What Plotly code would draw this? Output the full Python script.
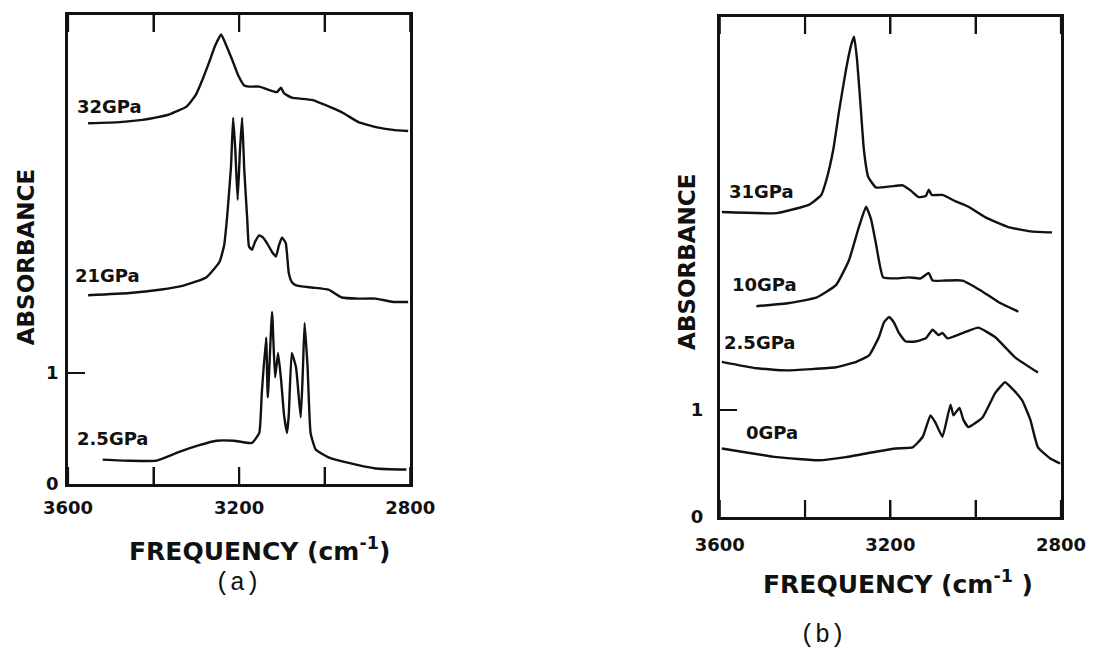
import plotly.graph_objects as go

# ---------------- data (frequency in cm^-1, absorbance) ----------------
# Panel (a)
a32_freq = [3553, 3479, 3426, 3409, 3363, 3323, 3302, 3286, 3270, 3256, 3242, 3230, 3216, 3202,
            3188, 3177, 3153, 3112, 3102, 3095, 3077, 3030, 2984, 2956, 2921, 2874, 2840, 2805]
a32_abs = [3.25, 3.26, 3.28, 3.29, 3.33, 3.40, 3.50, 3.64, 3.80, 3.95, 4.05, 3.95, 3.82, 3.68,
           3.59, 3.58, 3.58, 3.53, 3.57, 3.52, 3.48, 3.46, 3.39, 3.34, 3.26, 3.21, 3.19, 3.18]

a21_freq = [3553, 3456, 3386, 3328, 3277, 3246, 3235, 3228, 3219, 3214, 3209, 3203.5, 3198, 3193,
            3188, 3181, 3177, 3170, 3163, 3153, 3144, 3135, 3123, 3114, 3107, 3100, 3091, 3084,
            3077, 3067, 3030, 2991, 2960, 2921, 2881, 2840, 2805]
a21_abs = [1.70, 1.72, 1.75, 1.79, 1.86, 2.00, 2.15, 2.41, 2.86, 3.30, 3.01, 2.56, 3.01, 3.30,
           2.83, 2.38, 2.14, 2.11, 2.18, 2.24, 2.22, 2.17, 2.09, 2.05, 2.15, 2.22, 2.17, 1.90,
           1.82, 1.79, 1.77, 1.75, 1.68, 1.67, 1.67, 1.64, 1.64]

a25_freq = [3519, 3456, 3393, 3340, 3293, 3253, 3212, 3170, 3153, 3147, 3137, 3133, 3123, 3116,
            3109, 3102, 3095, 3088, 3084, 3077, 3067, 3056, 3051, 3047, 3040, 3033, 3021, 2991,
            2944, 2881, 2809]
a25_abs = [0.22, 0.21, 0.21, 0.29, 0.35, 0.39, 0.39, 0.37, 0.46, 0.82, 1.32, 0.78, 1.55, 0.96,
           1.18, 0.94, 0.62, 0.46, 0.62, 1.18, 1.05, 0.60, 1.03, 1.45, 1.05, 0.46, 0.31, 0.24,
           0.19, 0.14, 0.13]

# Panel (b)
b31_freq = [3595, 3467, 3390, 3362, 3350, 3334, 3320, 3304, 3292, 3285, 3278, 3269, 3262, 3252,
            3234, 3199, 3171, 3152, 3134, 3117, 3110, 3103, 3078, 3047, 3017, 2977, 2924, 2872, 2821]
b31_abs = [2.85, 2.84, 2.92, 3.01, 3.15, 3.43, 3.80, 4.18, 4.41, 4.49, 4.27, 3.80, 3.43, 3.18,
           3.08, 3.09, 3.10, 3.05, 2.99, 3.00, 3.06, 3.01, 3.01, 2.95, 2.90, 2.80, 2.71, 2.67, 2.66]

b10_freq = [3514, 3437, 3374, 3327, 3297, 3276, 3257, 3245, 3234, 3217, 3187, 3157, 3129, 3110,
            3101, 3071, 3031, 2989, 2947, 2900]
b10_abs = [1.97, 2.00, 2.05, 2.17, 2.40, 2.68, 2.90, 2.78, 2.56, 2.24, 2.23, 2.24, 2.23, 2.28,
           2.21, 2.21, 2.21, 2.12, 2.01, 1.92]

b25_freq = [3595, 3514, 3444, 3327, 3280, 3250, 3227, 3215, 3203, 3192, 3180, 3164, 3141, 3117,
            3101, 3087, 3078, 3066, 3024, 2994, 2954, 2907, 2854]
b25_abs = [1.45, 1.39, 1.37, 1.40, 1.45, 1.51, 1.68, 1.82, 1.87, 1.82, 1.72, 1.64, 1.64, 1.67,
           1.75, 1.70, 1.72, 1.67, 1.73, 1.77, 1.68, 1.49, 1.35]

b0_freq = [3595, 3467, 3367, 3304, 3234, 3187, 3148, 3124, 3106, 3094, 3078, 3059, 3052, 3038,
           3029, 3017, 2984, 2954, 2931, 2912, 2891, 2872, 2854, 2826, 2802]
b0_abs = [0.64, 0.56, 0.53, 0.56, 0.61, 0.64, 0.65, 0.75, 0.95, 0.88, 0.75, 1.05, 0.95, 1.02,
          0.91, 0.84, 0.93, 1.16, 1.26, 1.19, 1.09, 0.91, 0.65, 0.55, 0.50]

# labels: (text, freq, absorbance)
a_labels = [("32GPa", 3584, 3.40), ("21GPa", 3588, 1.88), ("2.5GPa", 3584, 0.41)]
b_labels = [("31GPa", 3584, 3.04), ("10GPa", 3577, 2.17), ("2.5GPa", 3595, 1.63), ("0GPa", 3544, 0.79)]

x_tickvals = [3600, 3400, 3200, 3000, 2800]
x_ticktext = ["3600", "", "3200", "", "2800"]
y_tickvals = [0, 1]
y_ticktext = ["0", "1"]

# ---------------- figure ----------------
INK = "#111111"
BOLD = "DejaVu Sans"
TICKLEN = 17

fig = go.Figure()

def add_curve(xs, ys, xa, ya):
    fig.add_trace(go.Scatter(x=xs, y=ys, mode="lines", xaxis=xa, yaxis=ya,
                             line=dict(color=INK, width=2.4, shape="spline", smoothing=0.4),
                             showlegend=False, hoverinfo="skip"))

add_curve(a32_freq, a32_abs, "x", "y")
add_curve(a21_freq, a21_abs, "x", "y")
add_curve(a25_freq, a25_abs, "x", "y")
add_curve(b31_freq, b31_abs, "x2", "y2")
add_curve(b10_freq, b10_abs, "x2", "y2")
add_curve(b25_freq, b25_abs, "x2", "y2")
add_curve(b0_freq, b0_abs, "x2", "y2")

W, H = 1098, 653
# plot area (pixels): left 68, right 1066, top 15, bottom 517
ML, MR, MT, MB = 68, W - 1066, 15, H - 517
PW, PH = W - ML - MR, H - MT - MB

def xdom(l, r):
    return [(l - ML) / PW, (r - ML) / PW]

def ydom(top, bottom):
    return [max(0.0, 1 - (bottom - MT) / PH), min(1.0, 1 - (top - MT) / PH)]

ydom_a = ydom(15, 484)
ydom_b = ydom(17, 517)

xaxis_common = dict(tickvals=x_tickvals, ticktext=x_ticktext, ticks="inside", ticklen=TICKLEN,
                    tickwidth=2.2, tickcolor=INK, showline=True, linecolor=INK, linewidth=2.6,
                    mirror="ticks", showgrid=False, zeroline=False,
                    tickfont=dict(family=BOLD, size=18, color=INK, weight="bold"))
yaxis_common = dict(tickvals=y_tickvals, ticktext=y_ticktext, ticks="inside", ticklen=TICKLEN,
                    tickwidth=2.2, tickcolor=INK, showline=True, linecolor=INK, linewidth=2.6,
                    mirror=True, showgrid=False, zeroline=False,
                    tickfont=dict(family=BOLD, size=18, color=INK, weight="bold"))

fig.update_layout(
    width=W, height=H, margin=dict(l=ML, r=MR, t=MT, b=MB),
    paper_bgcolor="white", plot_bgcolor="white",
    xaxis=dict(domain=xdom(68, 412), range=[3600, 2800], anchor="y", ticklabelstandoff=6, **xaxis_common),
    yaxis=dict(domain=ydom_a, range=[0, 4.225], anchor="x", ticklabelstandoff=3, **yaxis_common),
    xaxis2=dict(domain=xdom(723, 1066), range=[3600, 2800], anchor="y2", ticklabelstandoff=10, **xaxis_common),
    yaxis2=dict(domain=ydom_b, range=[0, 4.673], anchor="x2", ticklabelstandoff=10, **yaxis_common),
)

# inward tick marks on bottom and top frame edges, placed at the x tick values via the x scale
shapes = []
for xref, yref, dom in (("x", "y domain", ydom_a), ("x2", "y2 domain", ydom_b)):
    frac = TICKLEN / ((dom[1] - dom[0]) * PH)
    for v in x_tickvals:
        for y0, y1 in ((0, frac), (1 - frac, 1)):
            shapes.append(dict(type="line", xref=xref, yref=yref, x0=v, x1=v, y0=y0, y1=y1,
                               line=dict(color=INK, width=2.2)))
fig.update_layout(shapes=shapes)

ann = []
for t, fx, ay in a_labels:
    ann.append(dict(text=t, x=fx, y=ay, xref="x", yref="y", xanchor="left", yanchor="middle",
                    showarrow=False, font=dict(family=BOLD, size=18, color=INK, weight="bold")))
for t, fx, ay in b_labels:
    ann.append(dict(text=t, x=fx, y=ay, xref="x2", yref="y2", xanchor="left", yanchor="middle",
                    showarrow=False, font=dict(family=BOLD, size=18, color=INK, weight="bold")))

def paper_text(text, px, py, size, family=BOLD, angle=0, weight="bold"):
    return dict(text=text, x=(px - ML) / PW, y=1 - (py - MT) / PH, xref="paper", yref="paper",
                xanchor="center", yanchor="middle", showarrow=False, textangle=angle,
                font=dict(family=family, size=size, color=INK, weight=weight))

ann.append(paper_text("ABSORBANCE", 26, 257, 23, angle=-90))
ann.append(paper_text("ABSORBANCE", 690, 262, 23, angle=-90))
ann.append(paper_text("FREQUENCY (cm<sup>-1</sup>)", 260, 549, 25))
ann.append(paper_text("FREQUENCY (cm<sup>-1</sup> )", 902, 582, 25))
ann.append(paper_text("(a)", 238, 583, 25, family="Liberation Mono", weight="normal"))
ann.append(paper_text("(b)", 826, 635, 25, family="Liberation Mono", weight="normal"))

fig.update_layout(annotations=ann)

fig.write_html("out.html")
